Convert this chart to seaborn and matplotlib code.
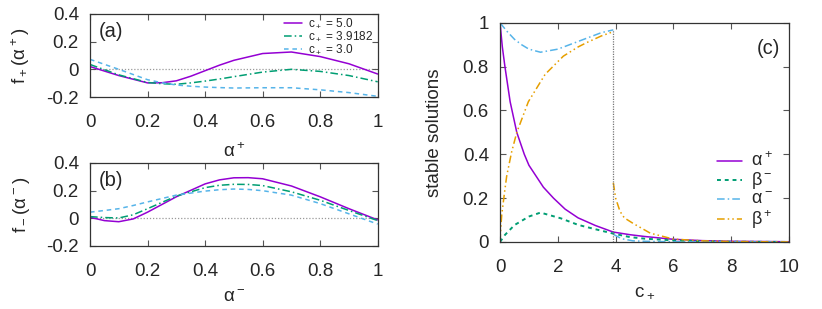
import numpy as np
import pandas as pd
import matplotlib
matplotlib.use("Agg")
import matplotlib.pyplot as plt
import seaborn as sns

# ---- data ----
alpha_grid = [0.0, 0.1, 0.2, 0.25, 0.3, 0.35, 0.4, 0.45, 0.5, 0.6, 0.7, 0.8, 0.9, 1.0]

# (a) f+(alpha+)
fp_c50 = [0.02, -0.045, -0.098, -0.097, -0.083, -0.05, -0.01, 0.03, 0.065, 0.114, 0.125, 0.092, 0.04, -0.034]
fp_c39 = [0.035, -0.04, -0.095, -0.104, -0.108, -0.098, -0.085, -0.07, -0.053, -0.02, 0.0, -0.015, -0.045, -0.09]
fp_c30 = [0.072, 0.0, -0.075, -0.097, -0.113, -0.122, -0.128, -0.132, -0.135, -0.133, -0.133, -0.148, -0.168, -0.195]

# (b) f-(alpha-)
alpha_grid_b = [0.0, 0.05, 0.1, 0.15, 0.2, 0.3, 0.4, 0.45, 0.5, 0.55, 0.6, 0.7, 0.8, 0.9, 1.0]
fm_c50 = [0.007, -0.017, -0.025, -0.005, 0.044, 0.155, 0.248, 0.277, 0.292, 0.293, 0.285, 0.233, 0.155, 0.069, -0.012]
fm_c39 = [0.012, 0.005, 0.002, 0.025, 0.069, 0.16, 0.221, 0.238, 0.245, 0.244, 0.236, 0.191, 0.13, 0.056, -0.017]
fm_c30 = [0.044, 0.056, 0.069, 0.092, 0.118, 0.167, 0.196, 0.206, 0.211, 0.208, 0.199, 0.167, 0.106, 0.032, -0.042]

c_labels = ["c$_+$ = 5.0", "c$_+$ = 3.9182", "c$_+$ = 3.0"]

# (c) stable solutions vs c+
c_crit = 3.9182
c_alpha_p = [0.0, 0.08, 0.17, 0.35, 0.58, 0.84, 1.0, 1.5, 1.85, 2.25, 2.7, 3.3, 3.92, 4.5, 5.0, 6.0, 7.0, 8.0, 10.0]
alpha_p = [1.0, 0.89, 0.8, 0.64, 0.5, 0.4, 0.35, 0.25, 0.2, 0.15, 0.11, 0.075, 0.045, 0.033, 0.025, 0.012, 0.006, 0.003, 0.001]

c_beta_m = [0.0, 0.17, 0.5, 1.0, 1.4, 2.1, 2.7, 3.3, 3.92, 4.5, 5.0, 6.0, 7.0, 8.0, 10.0]
beta_m = [0.0, 0.032, 0.077, 0.116, 0.134, 0.108, 0.078, 0.058, 0.038, 0.022, 0.015, 0.007, 0.003, 0.001, 0.0]

c_alpha_m_lo = [0.0, 0.25, 0.5, 0.75, 1.0, 1.4, 2.0, 2.5, 3.0, 3.5, 3.92]
alpha_m_lo = [1.0, 0.96, 0.925, 0.9, 0.88, 0.866, 0.88, 0.905, 0.93, 0.955, 0.968]
c_alpha_m_hi = [3.92, 4.2, 4.6, 5.0, 6.0, 10.0]
alpha_m_hi = [0.035, 0.015, 0.005, 0.003, 0.001, 0.0]

c_beta_p_lo = [0.0, 0.03, 0.06, 0.15, 0.23, 0.4, 0.58, 0.98, 1.56, 2.19, 2.7, 3.0, 3.5, 3.92]
beta_p_lo = [0.0, 0.07, 0.125, 0.22, 0.3, 0.41, 0.5, 0.64, 0.765, 0.848, 0.89, 0.91, 0.94, 0.96]
c_beta_p_hi = [3.92, 4.0, 4.15, 4.3, 4.6, 5.2, 6.0, 7.0, 8.0, 10.0]
beta_p_hi = [0.27, 0.2, 0.14, 0.11, 0.085, 0.04, 0.013, 0.005, 0.002, 0.0]

# ---- style ----
sns.set_theme(style="ticks")
plt.rcParams["font.family"] = ["Liberation Sans", "DejaVu Sans"]
plt.rcParams["mathtext.fontset"] = "custom"
plt.rcParams["mathtext.rm"] = "Liberation Sans"
plt.rcParams["mathtext.default"] = "regular"

PURPLE = "#9400D3"
GREEN = "#009E73"
BLUE = "#56B4E9"
ORANGE = "#E69F00"
FS = 13.5
LW = 1.1

fig = plt.figure(figsize=(8.22, 3.09), dpi=100)
ax_a = fig.add_axes([0.1095, 0.686, 0.350, 0.269])
ax_b = fig.add_axes([0.1095, 0.204, 0.350, 0.269])
ax_c = fig.add_axes([0.6083, 0.217, 0.3516, 0.709])


def frame(ax):
    for s in ax.spines.values():
        s.set_visible(True)
        s.set_color("#333333")
        s.set_linewidth(0.9)
    ax.tick_params(direction="in", top=True, right=True, length=4, width=0.8,
                   color="#555555", labelsize=FS)
    ax.tick_params(axis="y", pad=8)
    ax.tick_params(axis="x", pad=12)


dash_dot = (0, (5, 2, 1, 2))
dashed = (0, (3, 2.5))

# (a)
sns.lineplot(x=alpha_grid, y=fp_c50, ax=ax_a, color=PURPLE, lw=LW, label=c_labels[0])
sns.lineplot(x=alpha_grid, y=fp_c39, ax=ax_a, color=GREEN, lw=LW, linestyle=dash_dot, label=c_labels[1])
sns.lineplot(x=alpha_grid, y=fp_c30, ax=ax_a, color=BLUE, lw=LW, linestyle=dashed, label=c_labels[2])
ax_a.axhline(0, color="#999999", lw=0.9, linestyle=(0, (1, 1.5)), zorder=0)
ax_a.set_xlim(0, 1)
ax_a.set_ylim(-0.2, 0.4)
ax_a.set_xticks([0, 0.2, 0.4, 0.6, 0.8, 1])
ax_a.set_xticklabels(["0", "0.2", "0.4", "0.6", "0.8", "1"])
ax_a.set_yticks([-0.2, 0, 0.2, 0.4])
ax_a.set_yticklabels(["-0.2", "0", "0.2", "0.4"])
ax_a.set_xlabel("α$^+$", fontsize=FS, labelpad=8)
ax_a.set_ylabel("f$_+$(α$^+$)", fontsize=FS, labelpad=10)
ax_a.text(0.03, 0.72, "(a)", transform=ax_a.transAxes, fontsize=FS + 1)
ax_a.legend(loc="upper right", bbox_to_anchor=(1.01, 1.05), frameon=False, fontsize=8.5,
            handlelength=1.6, handletextpad=0.5, labelspacing=0.0, borderaxespad=0.2)
frame(ax_a)

# (b)
sns.lineplot(x=alpha_grid_b, y=fm_c50, ax=ax_b, color=PURPLE, lw=LW)
sns.lineplot(x=alpha_grid_b, y=fm_c39, ax=ax_b, color=GREEN, lw=LW, linestyle=dash_dot)
sns.lineplot(x=alpha_grid_b, y=fm_c30, ax=ax_b, color=BLUE, lw=LW, linestyle=dashed)
ax_b.axhline(0, color="#999999", lw=0.9, linestyle=(0, (1, 1.5)), zorder=0)
ax_b.set_xlim(0, 1)
ax_b.set_ylim(-0.2, 0.4)
ax_b.set_xticks([0, 0.2, 0.4, 0.6, 0.8, 1])
ax_b.set_xticklabels(["0", "0.2", "0.4", "0.6", "0.8", "1"])
ax_b.set_yticks([-0.2, 0, 0.2, 0.4])
ax_b.set_yticklabels(["-0.2", "0", "0.2", "0.4"])
ax_b.set_xlabel("α$^-$", fontsize=FS, labelpad=7)
ax_b.set_ylabel("f$_-$(α$^-$)", fontsize=FS, labelpad=10)
ax_b.text(0.03, 0.72, "(b)", transform=ax_b.transAxes, fontsize=FS + 1)
frame(ax_b)

# (c)
sns.lineplot(x=c_alpha_p, y=alpha_p, ax=ax_c, color=PURPLE, lw=LW, label="α$^+$")
sns.lineplot(x=c_beta_m, y=beta_m, ax=ax_c, color=GREEN, lw=LW + 0.3, linestyle=(0, (2, 2)), label="β$^-$")
sns.lineplot(x=c_alpha_m_lo, y=alpha_m_lo, ax=ax_c, color=BLUE, lw=LW, linestyle=dash_dot, label="α$^-$")
sns.lineplot(x=c_alpha_m_hi, y=alpha_m_hi, ax=ax_c, color=BLUE, lw=LW, linestyle=dash_dot)
dd = (0, (5, 2, 1, 2, 1, 2))
sns.lineplot(x=c_beta_p_lo, y=beta_p_lo, ax=ax_c, color=ORANGE, lw=LW, linestyle=dd, label="β$^+$")
sns.lineplot(x=c_beta_p_hi, y=beta_p_hi, ax=ax_c, color=ORANGE, lw=LW, linestyle=dd)
ax_c.vlines(c_crit, 0, alpha_m_lo[-1], color="#777777", lw=0.9, linestyle=(0, (1, 1)))
ax_c.set_xlim(0, 10)
ax_c.set_ylim(0, 1)
ax_c.set_xticks([0, 2, 4, 6, 8, 10])
ax_c.set_yticks([0, 0.2, 0.4, 0.6, 0.8, 1])
ax_c.set_yticklabels(["0", "0.2", "0.4", "0.6", "0.8", "1"])
ax_c.set_xlabel("c$_+$", fontsize=FS, labelpad=5)
ax_c.set_ylabel("stable solutions", fontsize=FS, labelpad=14)
ax_c.text(0.97, 0.86, "(c)", transform=ax_c.transAxes, fontsize=FS + 1, ha="right")
ax_c.legend(loc="lower right", bbox_to_anchor=(0.98, 0.0), frameon=False, fontsize=13,
            handlelength=1.35, handleheight=0.5, handletextpad=0.5, labelspacing=0.0,
            borderaxespad=0.2)
frame(ax_c)

fig.savefig("out.png", dpi=100)
